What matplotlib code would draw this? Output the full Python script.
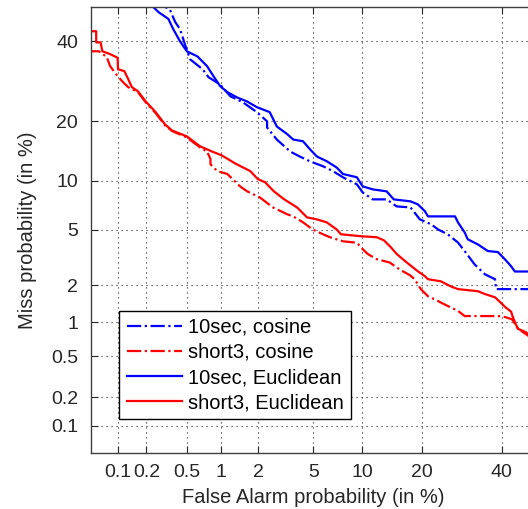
#!/usr/bin/env python
"""DET curves: 10sec vs short3, cosine vs Euclidean scoring."""
from statistics import NormalDist

import numpy as np
from matplotlib import pyplot as plt

plt.rcParams['font.family'] = ['Liberation Sans', 'DejaVu Sans']

# (false alarm %, miss %)
fa_10sec_cos = [0.248, 0.308, 0.34, 0.385, 0.428, 0.475, 0.53, 0.69, 0.78, 0.98, 1.2, 1.52,
                1.96, 2.35, 2.35, 2.78, 3.48, 4.05, 4.75, 5.78, 6.68, 7.69, 9.29, 10.02, 11.4,
                13.5, 15.18, 17.7, 19.55, 21.9, 23.5, 25.7, 28.2, 29.9, 32.5, 35.3, 38.1, 38.4, 49.0]
miss_10sec_cos = [52, 50, 49.4, 45.6, 43.5, 39.2, 35.0, 32.3, 30.2, 28.4, 25.5, 24.1,
                  21.9, 19.95, 18.7, 16.4, 14.3, 13.5, 12.75, 12.0, 11.3, 10.45, 9.54, 8.57, 7.79,
                  7.79, 7.06, 6.96, 5.86, 5.45, 5.03, 4.68, 4.12, 3.59, 2.88, 2.43, 2.23, 1.87, 1.87]

fa_short3_cos = [0.045, 0.062, 0.076, 0.083, 0.1, 0.115, 0.13, 0.164, 0.197, 0.248, 0.308, 0.36,
                 0.495, 0.655, 0.757, 0.81, 0.81, 0.93, 1.13, 1.44, 1.64, 2.07, 2.6, 3.31, 3.65,
                 4.26, 4.96, 5.78, 6.4, 7.72, 9.29, 10.02, 10.7, 11.97, 14.0, 15.7, 17.6, 18.5,
                 19.75, 21.25, 22.7, 25.7, 28.2, 29.9, 38.9, 40.9, 43.0, 44.7, 49.0]
miss_short3_cos = [37.2, 37.2, 35.6, 33.1, 30.5, 28.9, 27.7, 26.5, 24.1, 21.7, 19.1, 18.0,
                   16.8, 15.0, 14.3, 13.1, 12.3, 11.3, 10.9, 9.29, 8.7, 8.0, 6.96, 6.31, 6.11,
                   5.61, 5.03, 4.68, 4.47, 4.19, 4.1, 3.7, 3.42, 3.14, 2.97, 2.64, 2.39, 2.23,
                   1.87, 1.64, 1.55, 1.37, 1.25, 1.13, 1.13, 1.11, 1.06, 0.88, 0.72]

fa_10sec_euc = [0.2, 0.265, 0.331, 0.369, 0.428, 0.495, 0.618, 0.757, 0.86, 0.98, 1.13, 1.37,
                1.64, 1.96, 2.46, 2.78, 3.31, 3.65, 4.26, 4.75, 5.28, 6.12, 7.06, 7.69, 9.29,
                10.02, 11.4, 13.5, 14.67, 17.7, 19.14, 20.6, 21.25, 27.5, 28.2, 29.9, 30.7,
                33.4, 36.1, 38.9, 40.9, 42.7, 43.8, 49.0]
miss_10sec_euc = [52, 48.5, 46.5, 43.5, 40.0, 37.2, 35.8, 33.1, 30.5, 28.0, 26.5, 25.2,
                  24.3, 23.0, 21.9, 18.9, 17.4, 16.4, 16.1, 14.7, 13.5, 12.75, 11.8, 10.9, 10.45,
                  9.29, 8.92, 8.69, 7.79, 7.58, 7.27, 6.59, 6.12, 6.12, 5.61, 4.82, 4.33,
                  3.99, 3.59, 3.53, 3.14, 2.79, 2.55, 2.55]

fa_short3_euc = [0.045, 0.058, 0.058, 0.065, 0.068, 0.083, 0.1, 0.101, 0.118, 0.13, 0.142,
                 0.164, 0.197, 0.248, 0.308, 0.36, 0.495, 0.655, 0.84, 1.01, 1.32, 1.74, 2.0,
                 2.27, 2.64, 3.14, 3.88, 4.54, 5.28, 6.12, 7.06, 7.48, 9.79, 11.97, 13.06, 14.17,
                 15.18, 16.26, 17.0, 19.14, 20.6, 21.25, 24.1, 26.5, 28.2, 33.4, 35.3, 38.1,
                 39.7, 40.9, 42.7, 43.2, 44.1, 44.7, 47.1, 49.0]
miss_short3_euc = [42.9, 42.9, 39.7, 39.7, 37.2, 36.4, 35.4, 32.3, 31.8, 29.7, 27.7,
                   26.7, 24.3, 21.9, 19.3, 18.1, 17.0, 15.2, 14.3, 13.7, 12.4, 11.3, 10.2,
                   9.8, 8.7, 7.8, 6.96, 6.03, 5.86, 5.6, 5.03, 4.68, 4.54, 4.47, 4.26, 3.82,
                   3.42, 3.14, 2.97, 2.56, 2.35, 2.23, 2.15, 1.96, 1.87, 1.80, 1.71, 1.61,
                   1.46, 1.35, 1.23, 1.11, 0.96, 0.88, 0.82, 0.69]

ticks = [0.1, 0.2, 0.5, 1, 2, 5, 10, 20, 40]
tick_labels = ['0.1', '0.2', '0.5', '1', '2', '5', '10', '20', '40']

_nd = NormalDist()
_ppf = np.vectorize(_nd.inv_cdf, otypes=[float])
_cdf = np.vectorize(_nd.cdf, otypes=[float])


def probit(p):
    p = np.clip(np.asarray(p, dtype=float) / 100.0, 1e-9, 1 - 1e-9)
    return _ppf(p)


def inv_probit(z):
    return _cdf(np.asarray(z, dtype=float)) * 100.0


fig = plt.figure(figsize=(5.28, 5.09), dpi=100)
ax = fig.add_axes([90.5 / 528, 56 / 509, 445.5 / 528, 446 / 509])
ax.set_xscale('function', functions=(probit, inv_probit))
ax.set_yscale('function', functions=(probit, inv_probit))

ax.plot(fa_10sec_cos, miss_10sec_cos, color='b', ls='-.', lw=1.6, label='10sec, cosine')
ax.plot(fa_short3_cos, miss_short3_cos, color='r', ls='-.', lw=1.6, label='short3, cosine')
ax.plot(fa_10sec_euc, miss_10sec_euc, color='b', ls='-', lw=1.6, label='10sec, Euclidean')
ax.plot(fa_short3_euc, miss_short3_euc, color='r', ls='-', lw=1.6, label='short3, Euclidean')

ax.set_xlim(0.05, 50)
ax.set_ylim(0.05, 50)
ax.set_xticks(ticks)
ax.set_xticklabels(tick_labels)
ax.set_yticks(ticks)
ax.set_yticklabels(tick_labels)
ax.minorticks_off()
ax.tick_params(direction='in', top=True, right=True, length=5, labelsize=14,
               colors='#262626')
ax.tick_params(axis='x', pad=8)
ax.tick_params(axis='y', pad=9)
ax.grid(True, color='#262626', ls=(0, (1, 3.5)), lw=0.8)
for s in ax.spines.values():
    s.set_color('#404040')
    s.set_linewidth(1.0)

ax.set_xlabel('False Alarm probability (in %)', fontsize=14.5, color='#262626', labelpad=5)
ax.set_ylabel('Miss probability (in %)', fontsize=14.5, color='#262626', labelpad=10)

leg = ax.legend(loc='lower left', bbox_to_anchor=(0.065, 0.076), borderaxespad=0,
                fontsize=14.5, handlelength=2.75, labelspacing=0.3, fancybox=False,
                framealpha=1, edgecolor='black', handletextpad=0.3, borderpad=0.35)
leg.get_frame().set_linewidth(1.0)

fig.savefig('out.png', dpi=100)
